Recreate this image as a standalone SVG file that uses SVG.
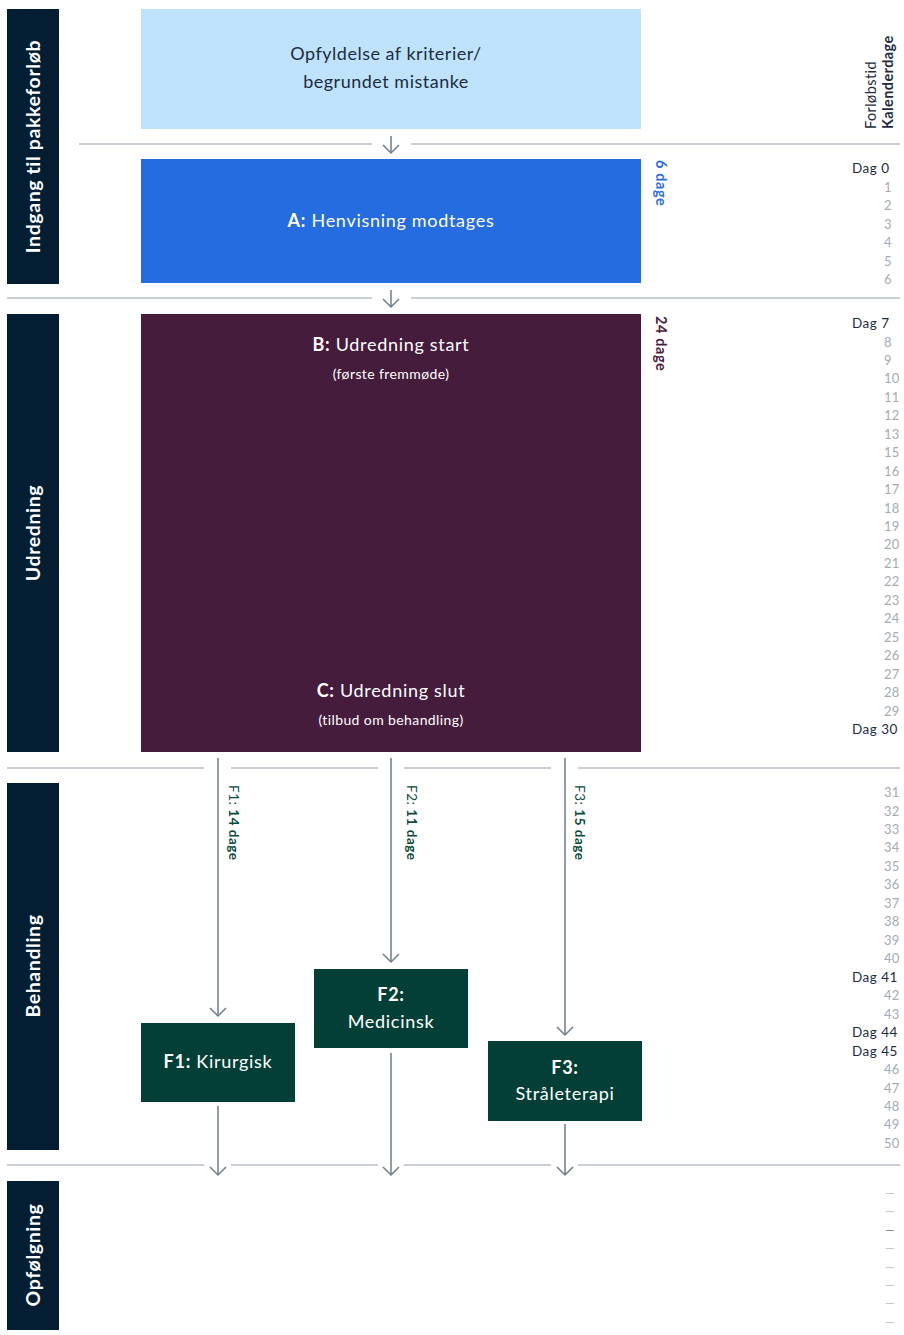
<svg xmlns="http://www.w3.org/2000/svg" width="904" height="1335" viewBox="0 0 904 1335">
<defs>
<style>
text{font-family:Lato,"Open Sans","Liberation Sans",sans-serif}
.side{fill:#031e33}
.sidet{fill:#fff;font-weight:700;font-size:19.5px;letter-spacing:0.6px;text-anchor:middle}
.sep{stroke:#b9c0c7;stroke-width:1.5;fill:none}
.con{stroke:#6e7b8b;stroke-width:1.5;fill:none}
.wt{fill:#fff;text-anchor:middle;font-size:18px;letter-spacing:0.7px}
.sub{font-size:14px;letter-spacing:0.4px}
.b{font-weight:700}
.day{font-size:13px;fill:#a3abb3;letter-spacing:0.3px}
.dag{font-size:13.5px;fill:#1d2d3f;letter-spacing:0.5px}
.dash{font-size:12px;fill:#b9c0c7}
.dur{font-size:13.5px;letter-spacing:0.5px}
.fbox{fill:#033f36}
</style>
<marker id="chev" viewBox="-9 -9 18 18" markerWidth="18" markerHeight="18" refX="0" refY="0" orient="auto" markerUnits="userSpaceOnUse">
<path d="M-8,-8 L0,0 L-8,8" stroke="#6e7b8b" stroke-width="1.5" fill="none"/>
</marker>
</defs>
<rect width="904" height="1335" fill="#fff"/>

<g id="lanes">
<rect class="side" x="7" y="9" width="52" height="275"/>
<text class="sidet" transform="translate(40,146.5) rotate(-90)">Indgang til pakkeforløb</text>
<rect class="side" x="7" y="314" width="52" height="438"/>
<text class="sidet" transform="translate(40,533) rotate(-90)">Udredning</text>
<rect class="side" x="7" y="783" width="52" height="367"/>
<text class="sidet" transform="translate(40,966) rotate(-90)">Behandling</text>
<rect class="side" x="7" y="1181" width="52" height="149"/>
<text class="sidet" transform="translate(40,1255) rotate(-90)">Opfølgning</text>
</g>

<g id="separators">
<path class="sep" d="M79,144H372M411,144H900"/>
<path class="sep" d="M7,298H372M411,298H900"/>
<path class="sep" d="M7,768H204M231,768H378M404,768H551M578,768H900"/>
<path class="sep" d="M7,1165H204M231,1165H378M404,1165H551M578,1165H900"/>
</g>

<g id="node-criteria">
<rect x="141" y="9" width="500" height="120" fill="#bfe3fc"/>
<text x="386" y="60" font-size="18" letter-spacing="0.5" fill="#1d2d3f" text-anchor="middle">Opfyldelse af kriterier/</text>
<text x="386" y="88" font-size="18" letter-spacing="0.5" fill="#1d2d3f" text-anchor="middle">begrundet mistanke</text>
</g>

<g id="node-A">
<rect x="141" y="159" width="500" height="124" fill="#246ce0"/>
<text class="wt" x="391" y="227"><tspan class="b">A:</tspan> Henvisning modtages</text>
</g>

<g id="node-BC">
<rect x="141" y="314" width="500" height="438" fill="#451c3c"/>
<text class="wt" x="391" y="351"><tspan class="b">B:</tspan> Udredning start</text>
<text class="wt sub" x="391" y="379">(første fremmøde)</text>
<text class="wt" x="391" y="697"><tspan class="b">C:</tspan> Udredning slut</text>
<text class="wt sub" x="391" y="725">(tilbud om behandling)</text>
</g>

<g id="node-F1">
<rect class="fbox" x="141" y="1023" width="154" height="79"/>
<text class="wt" x="218" y="1068"><tspan class="b">F1:</tspan> Kirurgisk</text>
</g>
<g id="node-F2">
<rect class="fbox" x="314" y="969" width="154" height="79"/>
<text class="wt b" x="391" y="1001">F2:</text>
<text class="wt" x="391" y="1028">Medicinsk</text>
</g>
<g id="node-F3">
<rect class="fbox" x="488" y="1041" width="154" height="80"/>
<text class="wt b" x="565" y="1074">F3:</text>
<text class="wt" x="565" y="1100">Stråleterapi</text>
</g>

<g id="connectors">
<path class="con" d="M391,136V153" marker-end="url(#chev)"/>
<path class="con" d="M391,290V307" marker-end="url(#chev)"/>
<path class="con" d="M218,758V1016" marker-end="url(#chev)"/>
<path class="con" d="M391,758V962" marker-end="url(#chev)"/>
<path class="con" d="M565,758V1035" marker-end="url(#chev)"/>
<path class="con" d="M218,1106V1175" marker-end="url(#chev)"/>
<path class="con" d="M391,1053V1175" marker-end="url(#chev)"/>
<path class="con" d="M565,1124V1175" marker-end="url(#chev)"/>
</g>

<g id="durations">
<text class="dur b" fill="#2f6fe0" font-size="14.5" style="font-size:14.5px;letter-spacing:0.6px" transform="translate(656,160) rotate(90)">6 dage</text>
<text class="dur b" fill="#4a1d40" style="font-size:14.5px;letter-spacing:0.6px" transform="translate(656,316) rotate(90)">24 dage</text>
<text class="dur" fill="#0b4a3c" transform="translate(229,785) rotate(90)">F1: <tspan class="b">14 dage</tspan></text>
<text class="dur" fill="#0b4a3c" transform="translate(407,785) rotate(90)">F2: <tspan class="b">11 dage</tspan></text>
<text class="dur" fill="#0b4a3c" transform="translate(575,785) rotate(90)">F3: <tspan class="b">15 dage</tspan></text>
</g>

<g id="timeline">
<text font-size="14.5" letter-spacing="0.4" fill="#1d2d3f" transform="translate(876,129) rotate(-90)">Forløbstid</text>
<text font-size="14.5" letter-spacing="0.4" font-weight="700" fill="#1d2d3f" transform="translate(893,129) rotate(-90)">Kalenderdage</text>
<text class="dag" x="852" y="173">Dag 0</text>
<text class="day" x="884" y="191.5">1</text>
<text class="day" x="884" y="210">2</text>
<text class="day" x="884" y="228.5">3</text>
<text class="day" x="884" y="247">4</text>
<text class="day" x="884" y="265.5">5</text>
<text class="day" x="884" y="284">6</text>
<text class="dag" x="852" y="328">Dag 7</text>
<text class="day" x="884" y="346.5">8</text>
<text class="day" x="884" y="364.9">9</text>
<text class="day" x="884" y="383.4">10</text>
<text class="day" x="884" y="401.8">11</text>
<text class="day" x="884" y="420.3">12</text>
<text class="day" x="884" y="438.7">13</text>
<text class="day" x="884" y="457.2">15</text>
<text class="day" x="884" y="475.6">16</text>
<text class="day" x="884" y="494">17</text>
<text class="day" x="884" y="512.5">18</text>
<text class="day" x="884" y="531">19</text>
<text class="day" x="884" y="549.4">20</text>
<text class="day" x="884" y="567.8">21</text>
<text class="day" x="884" y="586.3">22</text>
<text class="day" x="884" y="604.8">23</text>
<text class="day" x="884" y="623.2">24</text>
<text class="day" x="884" y="641.7">25</text>
<text class="day" x="884" y="660.1">26</text>
<text class="day" x="884" y="678.5">27</text>
<text class="day" x="884" y="697">28</text>
<text class="day" x="884" y="715.5">29</text>
<text class="dag" x="852" y="734">Dag 30</text>
<text class="day" x="884" y="797">31</text>
<text class="day" x="884" y="815.5">32</text>
<text class="day" x="884" y="833.9">33</text>
<text class="day" x="884" y="852.4">34</text>
<text class="day" x="884" y="870.9">35</text>
<text class="day" x="884" y="889.4">36</text>
<text class="day" x="884" y="907.8">37</text>
<text class="day" x="884" y="926.3">38</text>
<text class="day" x="884" y="944.7">39</text>
<text class="day" x="884" y="963.2">40</text>
<text class="dag" x="852" y="981.7">Dag 41</text>
<text class="day" x="884" y="1000.1">42</text>
<text class="day" x="884" y="1018.6">43</text>
<text class="dag" x="852" y="1037.1">Dag 44</text>
<text class="dag" x="852" y="1055.5">Dag 45</text>
<text class="day" x="884" y="1074">46</text>
<text class="day" x="884" y="1092.5">47</text>
<text class="day" x="884" y="1110.9">48</text>
<text class="day" x="884" y="1129.4">49</text>
<text class="day" x="884" y="1147.9">50</text>
<text class="dash" x="885" y="1197">—</text>
<text class="dash" x="885" y="1215.4">—</text>
<text class="dash" x="885" y="1233.8" style="fill:#6e7b8b">—</text>
<text class="dash" x="885" y="1252.2">—</text>
<text class="dash" x="885" y="1270.6">—</text>
<text class="dash" x="885" y="1289">—</text>
<text class="dash" x="885" y="1307.4">—</text>
<text class="dash" x="885" y="1325.8">—</text>
</g>
</svg>
